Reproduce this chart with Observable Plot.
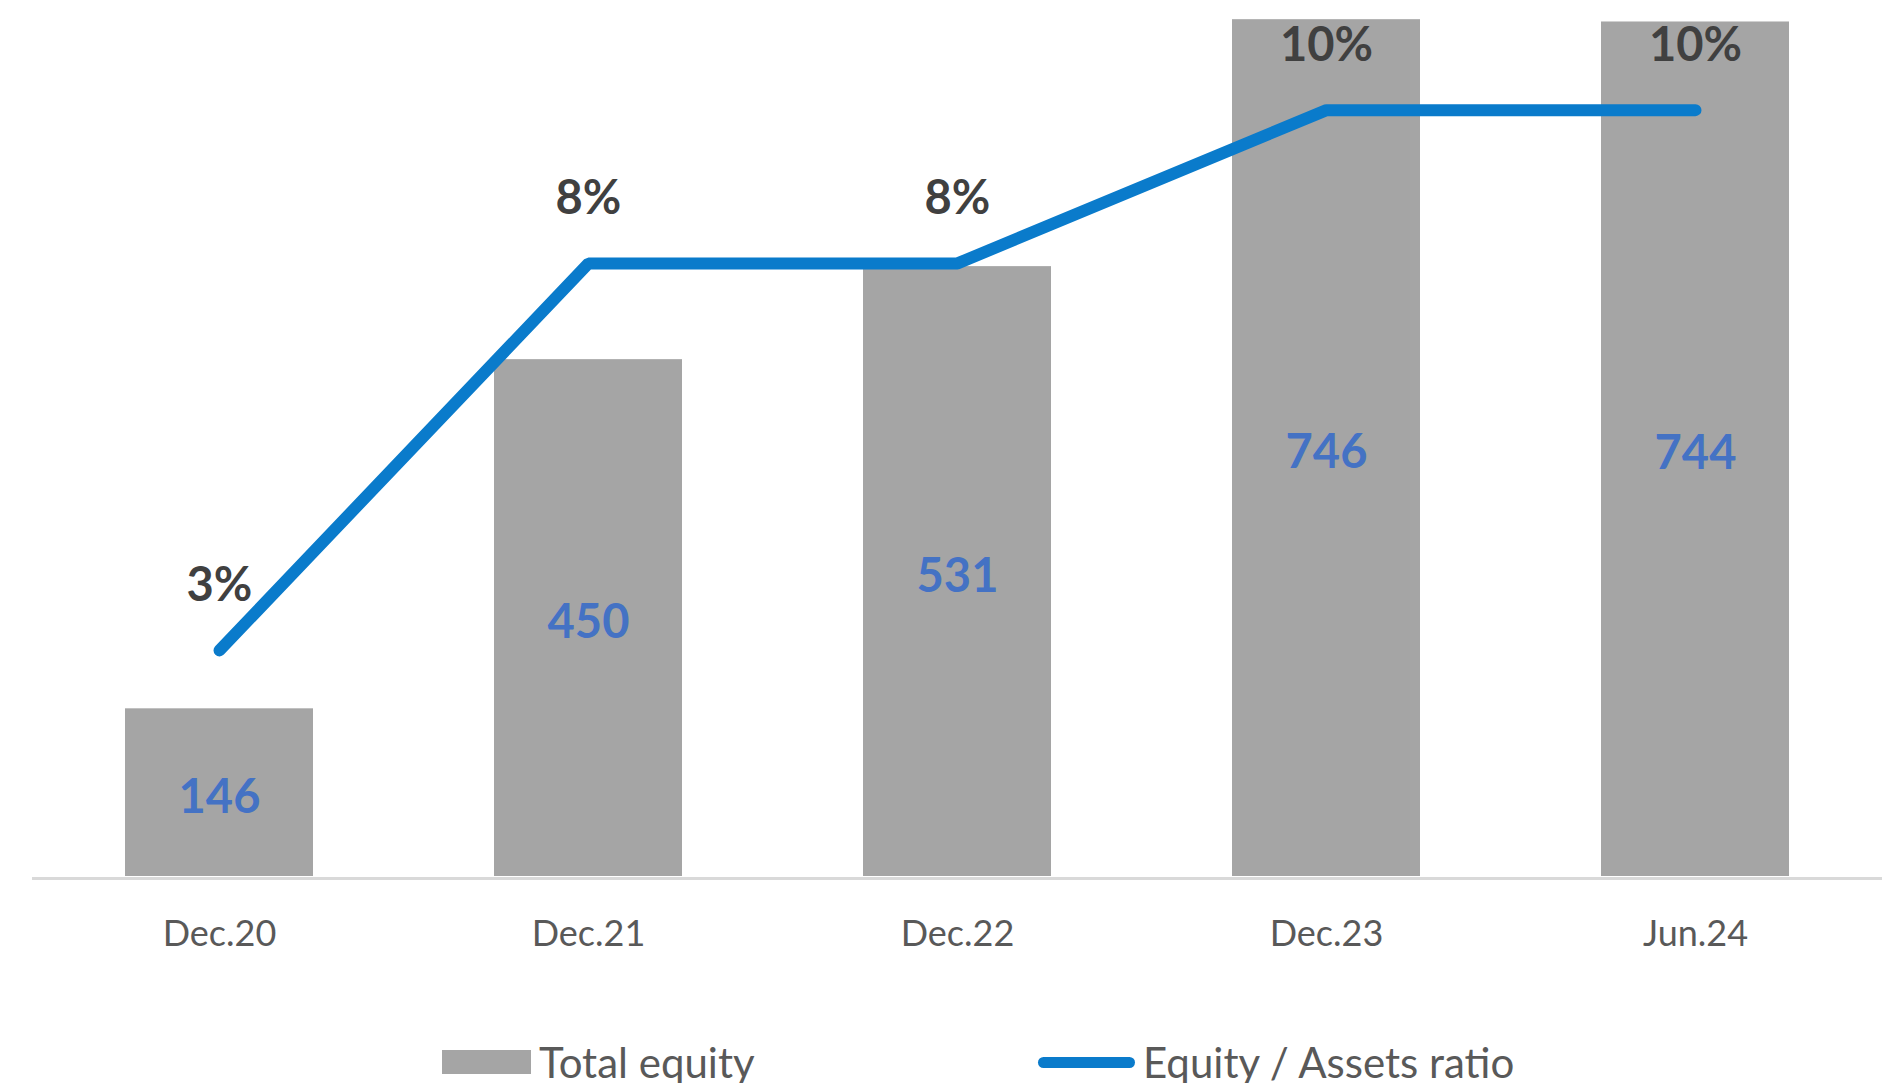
<!DOCTYPE html>
<html>
<head>
<meta charset="utf-8">
<script src="https://cdn.jsdelivr.net/npm/d3@7"></script>
<script src="https://cdn.jsdelivr.net/npm/@observablehq/plot@0.6"></script>
<style>
  html, body { margin: 0; padding: 0; background: #fff; }
  body { width: 1897px; height: 1083px; overflow: hidden; font-family: Lato, "Open Sans", sans-serif; }
  #chart { position: relative; width: 1897px; }
  #legend { position: relative; width: 1897px; height: 53px; }
  .lg { position: absolute; display: flex; align-items: center; font-size: 42px; color: #595959; white-space: nowrap; }
  .sw-bar { width: 89px; height: 24px; background: #A5A5A5; margin-right: 8px; }
  .sw-line { width: 97px; height: 11px; border-radius: 6px; background: #0A7BCB; margin-right: 8px; }
</style>
</head>
<body>
<div id="chart"></div>
<div id="legend">
  <div class="lg" style="left:442px; top:7px;"><div class="sw-bar"></div><span>Total equity</span></div>
  <div class="lg" style="left:1038px; top:7px;"><div class="sw-line"></div><span>Equity / Assets ratio</span></div>
</div>
<script>
const periods = ["Dec.20", "Dec.21", "Dec.22", "Dec.23", "Jun.24"];
const totalEquity = [146, 450, 531, 746, 744];
const equityAssetsRatio = [0.0295, 0.08, 0.08, 0.10, 0.10];

const Y_MAX = 754;      // primary axis max (equity)
const Y2_MAX = 0.113;   // secondary axis max (ratio)

const bars = periods.map((p, i) => ({period: p, equity: totalEquity[i]}));
const ratio = periods.map((p, i) => ({period: p, ratio: equityAssetsRatio[i]}));
const y2 = d3.scaleLinear().domain([0, Y2_MAX]).range([0, Y_MAX]);

const chart = Plot.plot({
  width: 1897,
  height: 1030,
  marginTop: 10,
  marginBottom: 154,
  marginLeft: 32,
  marginRight: 15,
  style: {fontFamily: "Lato, 'Open Sans', sans-serif", background: "#fff"},
  x: {domain: periods, paddingInner: 0.49, paddingOuter: 0.25, label: null},
  y: {domain: [0, Y_MAX], axis: null},
  marks: [
    Plot.barY(bars, {x: "period", y: "equity", fill: "#A5A5A5"}),
    Plot.ruleY([0], {stroke: "#D9D9D9", strokeWidth: 3, dy: 2}),
    Plot.axisX({tickSize: 0, tickPadding: 44, fontSize: 36, fill: "#595959", label: null}),
    Plot.text(bars, {x: "period", y: d => d.equity / 2, text: d => String(d.equity),
      dy: 5, fill: "#4472C4", fontSize: 47, fontWeight: "bold"}),
    Plot.line(ratio, {x: "period", y: d => y2(d.ratio), stroke: "#0A7BCB", strokeWidth: 12,
      strokeLinecap: "round", strokeLinejoin: "miter"}),
    Plot.text(ratio, {x: "period", y: d => y2(d.ratio), text: d => d3.format(".0%")(d.ratio),
      dy: -64, fill: "#404040", fontSize: 47, fontWeight: "bold"})
  ]
});
document.getElementById("chart").appendChild(chart);
</script>
</body>
</html>
